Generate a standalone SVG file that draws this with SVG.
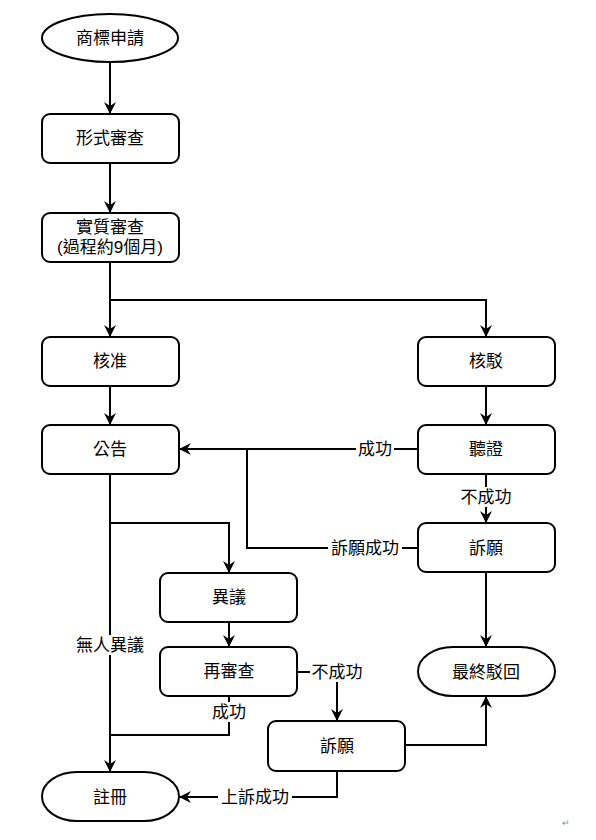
<svg xmlns="http://www.w3.org/2000/svg" width="596" height="840" viewBox="0 0 596 840">
<defs>
<style>
.box{fill:#fff;stroke:#000;stroke-width:2}
.ln{fill:none;stroke:#000;stroke-width:2}
text{font-family:"Liberation Sans","Noto Sans CJK TC",sans-serif;font-size:17px;fill:#000;text-anchor:middle;dominant-baseline:central}
.lbg{fill:#fff}
</style>
<marker id="ah" viewBox="0 0 12 12" refX="11" refY="6" markerWidth="12" markerHeight="12" markerUnits="userSpaceOnUse" orient="auto">
<path d="M0,0 L12,6 L0,12 L4,6 Z" fill="#000"/>
</marker>
</defs>
<rect width="596" height="840" fill="#fff"/>
<g id="connectors">
<path class="ln" d="M110,62 V113" marker-end="url(#ah)"/>
<path class="ln" d="M110,163 V212" marker-end="url(#ah)"/>
<path class="ln" d="M110,262 V336"  marker-end="url(#ah)"/>
<path class="ln" d="M110,300 H486 V336" marker-end="url(#ah)"/>
<path class="ln" d="M110,386 V424" marker-end="url(#ah)"/>
<path class="ln" d="M486,386 V424" marker-end="url(#ah)"/>
<path class="ln" d="M418,449 H180" marker-end="url(#ah)"/>
<path class="ln" d="M486,474 V522" marker-end="url(#ah)"/>
<path class="ln" d="M418,548 H247 V449"/>
<path class="ln" d="M486,572 V646" marker-end="url(#ah)"/>
<path class="ln" d="M110,474 V771" marker-end="url(#ah)"/>
<path class="ln" d="M110,523 H229 V572" marker-end="url(#ah)"/>
<path class="ln" d="M229,622 V646" marker-end="url(#ah)"/>
<path class="ln" d="M229,696 V735 H110"/>
<path class="ln" d="M297,672 H337 V720" marker-end="url(#ah)"/>
<path class="ln" d="M405,745 H486 V697" marker-end="url(#ah)"/>
<path class="ln" d="M337,771 V797 H180" marker-end="url(#ah)"/>
<rect class="lbg" x="356" y="439" width="38" height="20"/>
<text x="375" y="449">成功</text>
<rect class="lbg" x="458" y="487" width="56" height="20"/>
<text x="486" y="497">不成功</text>
<rect class="lbg" x="328" y="538" width="74" height="20"/>
<text x="365" y="548">訴願成功</text>
<rect class="lbg" x="73" y="635" width="74" height="20"/>
<text x="110" y="645">無人異議</text>
<rect class="lbg" x="210" y="702" width="38" height="20"/>
<text x="229" y="712">成功</text>
<rect class="lbg" x="310" y="662" width="56" height="20"/>
<text x="337" y="672">不成功</text>
<rect class="lbg" x="218" y="787" width="74" height="20"/>
<text x="255" y="797">上訴成功</text>
</g>
<g id="n-apply"><ellipse class="box" cx="110" cy="38" rx="68" ry="24"/><text x="110" y="38">商標申請</text></g>
<g id="n-formal"><rect class="box" x="42" y="114" width="137" height="49" rx="8"/><text x="110" y="138">形式審查</text></g>
<g id="n-substantive"><rect class="box" x="42" y="213" width="137" height="49" rx="8"/><text x="110" y="227">實質審查</text><text x="110" y="247">(過程約9個月)</text></g>
<g id="n-approve"><rect class="box" x="42" y="337" width="137" height="49" rx="8"/><text x="110" y="361">核准</text></g>
<g id="n-reject"><rect class="box" x="418" y="337" width="137" height="49" rx="8"/><text x="486" y="361">核駁</text></g>
<g id="n-announce"><rect class="box" x="42" y="425" width="137" height="49" rx="8"/><text x="110" y="449">公告</text></g>
<g id="n-hearing"><rect class="box" x="418" y="425" width="137" height="49" rx="8"/><text x="486" y="449">聽證</text></g>
<g id="n-petition1"><rect class="box" x="418" y="523" width="137" height="49" rx="8"/><text x="486" y="548">訴願</text></g>
<g id="n-opposition"><rect class="box" x="160" y="573" width="137" height="49" rx="8"/><text x="229" y="597">異議</text></g>
<g id="n-reexam"><rect class="box" x="160" y="647" width="137" height="49" rx="8"/><text x="229" y="671">再審查</text></g>
<g id="n-final"><rect class="box" x="418" y="647" width="137" height="49" rx="35" ry="24.5"/><text x="486" y="672">最終駁回</text></g>
<g id="n-petition2"><rect class="box" x="268" y="721" width="137" height="50" rx="8"/><text x="337" y="746">訴願</text></g>
<g id="n-register"><rect class="box" x="42" y="772" width="137" height="49" rx="35" ry="24.5"/><text x="110" y="797">註冊</text></g>
<text x="566" y="823" style="font-size:9px;fill:#888">↵</text>
</svg>
